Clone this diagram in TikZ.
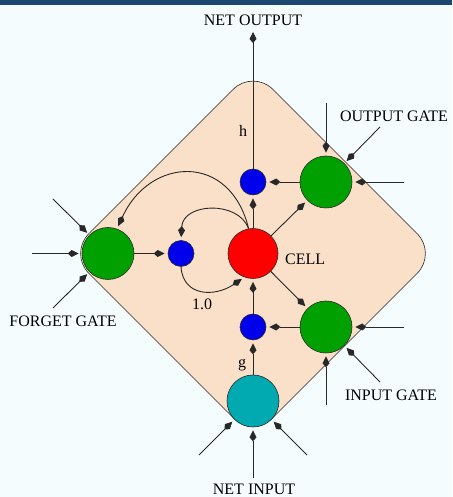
\documentclass[tikz,border=0pt]{standalone}
\usepackage{fontspec}
\setmainfont{Liberation Serif}
\usetikzlibrary{arrows.meta}
\definecolor{bgc}{RGB}{245,252,254}
\definecolor{barc}{RGB}{28,71,113}
\definecolor{peach}{RGB}{250,224,200}
\definecolor{gatec}{RGB}{0,160,0}
\definecolor{cellc}{RGB}{255,0,0}
\definecolor{bluec}{RGB}{0,0,235}
\definecolor{tealc}{RGB}{0,170,176}
\definecolor{linec}{RGB}{40,40,40}
\begin{document}
\begin{tikzpicture}[x=1pt,y=1pt,
  unit/.style={circle,draw=linec,line width=0.6pt,inner sep=0pt},
  gate/.style={unit,fill=gatec,minimum size=52pt},
  mult/.style={unit,fill=bluec,minimum size=26pt},
  conn/.style={draw=linec,line width=0.9pt,-{Kite[length=11pt,width=7pt,inset=4pt]},shorten >=3pt},
  lbl/.style={font=\fontsize{16}{16}\selectfont,inner sep=0pt,anchor=base}]
\useasboundingbox (0,0) rectangle (452,497);
\fill[bgc] (0,0) rectangle (452,497);
\fill[barc] (0,492) rectangle (452,497);
\draw[fill=peach,draw=linec,line width=0.6pt,rounded corners=28pt]
  (253,427.5) -- (437,243.5) -- (253,59.5) -- (69,243.5) -- cycle;

% units
\node[unit,fill=cellc,minimum size=50pt] (cell) at (253,243.5) {};
\node[gate] (FG) at (108,243.5) {};
\node[mult] (FB) at (181,243.5) {};
\node[mult] (OB) at (253,315) {};
\node[gate] (OG) at (326,315) {};
\node[mult] (IB) at (253,170) {};
\node[gate] (IG) at (326,170) {};
\node[unit,fill=tealc,minimum size=52pt] (NI) at (253,96) {};

% free ends
\coordinate (netout) at (253,465);
\coordinate (ogT) at (326,394);
\coordinate (ogD) at (380,370);
\coordinate (ogR) at (404,315);
\coordinate (igR) at (404,170);
\coordinate (igB) at (326,92);
\coordinate (igD) at (380,115);
\coordinate (niL) at (199,42);
\coordinate (niB) at (253,19);
\coordinate (niR) at (307,42);
\coordinate (fgU) at (53,298);
\coordinate (fgL) at (32,243.5);
\coordinate (fgD) at (53,189);

% external inputs
\draw[conn] (ogT) -- (OG);
\draw[conn] (ogD) -- (OG);
\draw[conn] (ogR) -- (OG);
\draw[conn] (igR) -- (IG);
\draw[conn] (igB) -- (IG);
\draw[conn] (igD) -- (IG);
\draw[conn] (niL) -- (NI);
\draw[conn] (niB) -- (NI);
\draw[conn] (niR) -- (NI);
\draw[conn] (fgU) -- (FG);
\draw[conn] (fgL) -- (FG);
\draw[conn] (fgD) -- (FG);

% internal connections
\draw[conn,shorten >=0pt] (OB) -- (netout);
\draw[conn] (OG) -- (OB);
\draw[conn] (cell) -- (OB);
\draw[conn] (cell) -- (OG);
\draw[conn] (cell) -- (IG);
\draw[conn] (IG) -- (IB);
\draw[conn] (IB) -- (cell);
\draw[conn] (NI) -- (IB);
\draw[conn] (FG) -- (FB);
\draw[conn] (cell.100) .. controls (238,297) and (183,294) .. (FB.north);
\draw[conn] (cell.100) .. controls (230,345) and (150,340) .. (FG.70);
\draw[conn] (FB.south) .. controls (183,200) and (215,200) .. (cell.250);

% labels
\node[lbl] (tNO) at (253,471) {NET OUTPUT};
\node[lbl] (tOG) at (394,375) {OUTPUT GATE};
\node[lbl] (th) at (243,360) {h};
\node[lbl,anchor=base west] (tC) at (285,232) {CELL};
\node[lbl] (t10) at (202,187) {1.0};
\node[lbl] (tFG) at (63,170) {FORGET GATE};
\node[lbl] (tg) at (242,129) {g};
\node[lbl] (tIG) at (391,96) {INPUT GATE};
\node[lbl] (tNI) at (254,2) {NET INPUT};
\end{tikzpicture}
\end{document}
